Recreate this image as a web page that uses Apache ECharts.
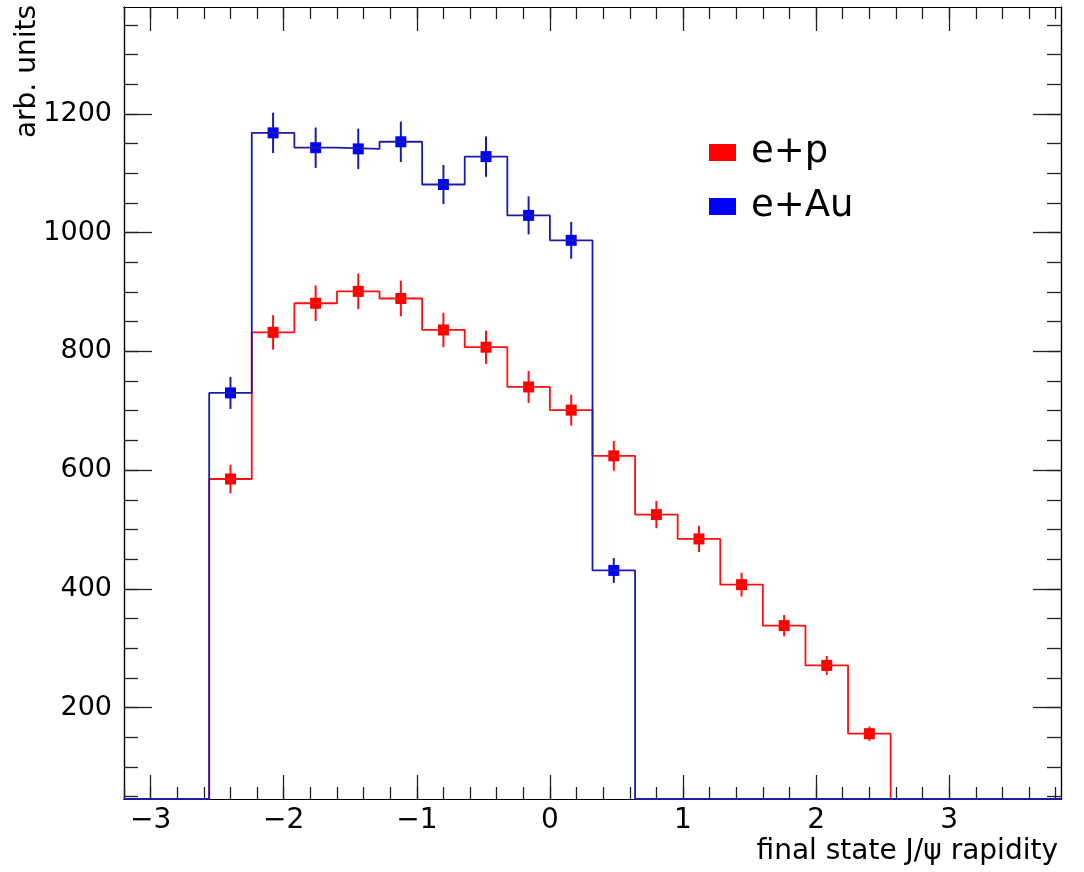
<!DOCTYPE html>
<html>
<head>
<meta charset="utf-8">
<title>J/psi rapidity</title>
<script src="https://cdn.jsdelivr.net/npm/echarts@6/dist/echarts.min.js"></script>
<style>
  html, body { margin: 0; padding: 0; background: #fff; }
  #chart { width: 1084px; height: 872px; }
</style>
</head>
<body>
<div id="chart"></div>
<script>
// Histogram binning: 22 bins of width 0.32 starting at -3.2
const BIN_LOW = -3.2;
const BIN_WIDTH = 0.32;

// Bin contents and their statistical errors
const epCounts  = [0, 0, 585, 832, 881, 901, 889, 836, 807, 740, 701, 624, 525, 484, 407, 338, 271, 156, 0, 0, 0, 0];
const epErrors  = [0, 0, 24, 29, 30, 30, 30, 29, 28, 27, 26, 25, 23, 22, 20, 18, 16, 12, 0, 0, 0, 0];
const eAuCounts = [0, 0, 730, 1168, 1143, 1141, 1153, 1081, 1128, 1029, 987, 431, 0, 0, 0, 0, 0, 0, 0, 0, 0, 0];
const eAuErrors = [0, 0, 27, 34, 34, 34, 34, 33, 34, 32, 31, 21, 0, 0, 0, 0, 0, 0, 0, 0, 0, 0];

// Axis ranges and tick positions
const X_MIN = -3.2, X_MAX = 3.84;
const Y_MIN = 46, Y_MAX = 1380;
const xMajorTicks = [-3, -2, -1, 0, 1, 2, 3];
const yMajorTicks = [200, 400, 600, 800, 1000, 1200];

function steps(from, to, step) {
  const out = [];
  for (let v = from; v <= to + 1e-9; v += step) out.push(Math.round(v * 1000) / 1000);
  return out;
}
const xMinorTicks = steps(-3.2, 3.8, 0.2);
const yMinorTicks = steps(50, 1350, 50);

const FONT = 'DejaVu Sans';
const LINE_RED = '#ff1010';
const LINE_BLUE = '#1c1ca6';
const MARK_RED = '#ff0000';
const MARK_BLUE = '#0000ff';

// Step outline of a histogram; empty bins sit on the lower frame edge
function outline(counts) {
  const pts = [];
  counts.forEach((c, i) => {
    const lo = BIN_LOW + i * BIN_WIDTH;
    const hi = lo + BIN_WIDTH;
    const y = Math.max(c, Y_MIN);
    pts.push([lo, y], [hi, y]);
  });
  return pts;
}

// Marker + error bar entries: [bin centre, content, error]
function points(counts, errors) {
  return counts.map((c, i) => [BIN_LOW + (i + 0.5) * BIN_WIDTH, c, errors[i]]);
}

function pointRenderer(markColor, barColor) {
  return function (params, api) {
    const x = api.value(0), y = api.value(1), e = api.value(2);
    if (y <= 0) return null;
    const c = api.coord([x, y]);
    const top = api.coord([x, y + e]);
    const bot = api.coord([x, y - e]);
    return {
      type: 'group',
      children: [
        { type: 'line', shape: { x1: c[0], y1: top[1], x2: c[0], y2: bot[1] },
          style: { stroke: barColor, lineWidth: 2 } },
        { type: 'rect', shape: { x: c[0] - 5.5, y: c[1] - 5.5, width: 11, height: 11 },
          style: { fill: markColor } }
      ]
    };
  };
}

function xAxis(gridIndex, position, ticks, len, withLabels) {
  return {
    type: 'value', gridIndex, position, min: X_MIN, max: X_MAX,
    axisLine: { show: true, onZero: false, lineStyle: { color: '#000', width: 1.2 } },
    axisTick: { show: true, inside: true, length: len, customValues: ticks,
                lineStyle: { color: '#222', width: 1.3 } },
    axisLabel: { show: withLabels, customValues: ticks, margin: 8,
                 fontFamily: FONT, fontSize: 28, color: '#000',
                 formatter: v => String(v).replace('-', '\u2212') },
    splitLine: { show: false }
  };
}

function yAxis(gridIndex, position, ticks, len, withLabels) {
  return {
    type: 'value', gridIndex, position, min: Y_MIN, max: Y_MAX,
    axisLine: { show: true, onZero: false, lineStyle: { color: '#000', width: 1.2 } },
    axisTick: { show: true, inside: true, length: len, customValues: ticks,
                lineStyle: { color: '#222', width: 1.3 } },
    axisLabel: { show: withLabels, customValues: ticks, margin: 12,
                 fontFamily: FONT, fontSize: 27, color: '#000',
                 formatter: v => String(v) },
    splitLine: { show: false }
  };
}

const gridRect = { left: 124, right: 23, top: 7, bottom: 73 };

const chart = echarts.init(document.getElementById('chart'), null, { renderer: 'canvas' });
chart.setOption({
  animation: false,
  backgroundColor: '#fff',
  grid: [Object.assign({}, gridRect), Object.assign({}, gridRect)],
  xAxis: [
    xAxis(0, 'bottom', xMajorTicks, 24, true),
    xAxis(0, 'top', xMajorTicks, 24, false),
    xAxis(1, 'bottom', xMinorTicks, 12, false),
    xAxis(1, 'top', xMinorTicks, 12, false)
  ],
  yAxis: [
    yAxis(0, 'left', yMajorTicks, 28, true),
    yAxis(0, 'right', yMajorTicks, 28, false),
    yAxis(1, 'left', yMinorTicks, 14, false),
    yAxis(1, 'right', yMinorTicks, 14, false)
  ],
  legend: {
    orient: 'vertical', left: 704, top: 129,
    itemWidth: 27, itemHeight: 17, itemGap: 17,
    textStyle: { fontFamily: FONT, fontSize: 37, lineHeight: 37, color: '#000', padding: [0, 0, 0, 10] },
    data: [
      { name: 'e+p', icon: 'rect', itemStyle: { color: MARK_RED } },
      { name: 'e+Au', icon: 'rect', itemStyle: { color: MARK_BLUE } }
    ]
  },
  graphic: [
    { type: 'text', x: 28, y: 5, rotation: Math.PI / 2,
      style: { text: 'arb. units', fontFamily: FONT, fontSize: 28, fill: '#000',
               align: 'right', verticalAlign: 'middle' } },
    { type: 'text', x: 1058, y: 852,
      style: { text: 'final state J/\u03C8 rapidity', fontFamily: FONT, fontSize: 28, fill: '#000',
               align: 'right', verticalAlign: 'middle' } }
  ],
  series: [
    { name: 'e+p', type: 'line', xAxisIndex: 0, yAxisIndex: 0, data: outline(epCounts),
      showSymbol: false, clip: true, silent: true,
      lineStyle: { color: LINE_RED, width: 1.8 } },
    { name: 'e+p', type: 'custom', xAxisIndex: 0, yAxisIndex: 0, data: points(epCounts, epErrors),
      renderItem: pointRenderer(MARK_RED, LINE_RED), encode: { x: 0, y: 1 }, silent: true },
    { name: 'e+Au', type: 'line', xAxisIndex: 0, yAxisIndex: 0, data: outline(eAuCounts),
      showSymbol: false, clip: true, silent: true,
      lineStyle: { color: LINE_BLUE, width: 1.8 } },
    { name: 'e+Au', type: 'custom', xAxisIndex: 0, yAxisIndex: 0, data: points(eAuCounts, eAuErrors),
      renderItem: pointRenderer(MARK_BLUE, LINE_BLUE), encode: { x: 0, y: 1 }, silent: true }
  ]
});
</script>
</body>
</html>
